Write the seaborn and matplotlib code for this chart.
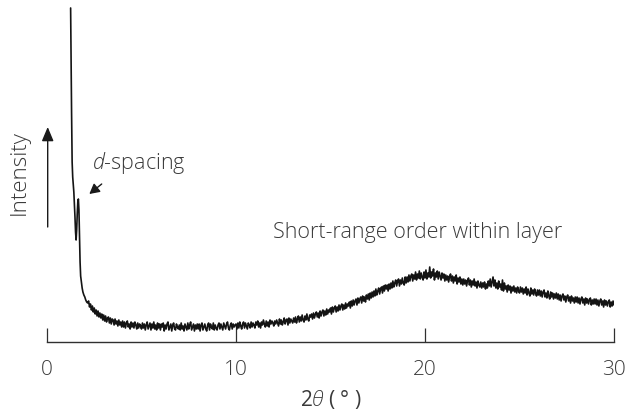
import numpy as np
import pandas as pd
import matplotlib
matplotlib.use("Agg")
import matplotlib.pyplot as plt
import seaborn as sns

# low-angle region (read point by point, uneven spacing)
low_angle = [1.25, 1.27, 1.30, 1.33, 1.36, 1.39, 1.42, 1.45, 1.48, 1.51,
             1.54, 1.57, 1.60, 1.63, 1.66, 1.69, 1.72, 1.75, 1.78, 1.82,
             1.86, 1.90, 1.95, 2.00, 2.05, 2.10, 2.15]
low_counts = [334, 290, 230, 180, 165, 158, 150, 138, 125, 110,
              102, 112, 128, 140, 143, 132, 105, 80, 66, 60,
              54, 50, 47, 45, 42, 40, 39]

# 2.20 .. 30.00 deg, step 0.05 (one row per degree)
scan_start, scan_step = 2.2, 0.05
scan_counts = [
    41, 35, 38, 32, 36, 30, 34, 28, 32, 26, 31, 25, 29, 24, 28, 22,
    27, 21, 26, 20, 24, 25, 19, 24, 18, 23, 22, 17, 23, 18, 21, 16, 22, 17, 20, 15,
    21, 15, 20, 14, 19, 21, 15, 18, 13, 20, 15, 19, 14, 20, 17, 13, 19, 14, 18, 16,
    13, 19, 14, 18, 12, 17, 20, 13, 16, 19, 12, 18, 14, 20, 13, 17, 12, 19, 14, 18,
    12, 18, 15, 19, 11, 17, 13, 18, 20, 12, 15, 18, 11, 17, 19, 13, 12, 18, 15, 13,
    17, 12, 19, 13, 16, 11, 18, 15, 12, 19, 13, 17, 20, 12, 15, 18, 11, 17, 13, 18,
    13, 18, 11, 17, 19, 12, 15, 18, 13, 11, 17, 19, 12, 18, 15, 13, 19, 12, 17, 14,
    12, 17, 19, 13, 18, 15, 12, 19, 16, 13, 18, 20, 14, 12, 17, 19, 13, 18, 15, 17,
    18, 13, 19, 14, 20, 16, 13, 18, 20, 14, 19, 16, 13, 19, 17, 14, 20, 15, 19, 17,
    14, 20, 17, 21, 15, 19, 14, 20, 17, 22, 18, 15, 21, 16, 20, 15, 22, 18, 21, 19,
    16, 21, 18, 22, 19, 16, 23, 18, 22, 17, 20, 24, 18, 22, 23, 17, 24, 19, 23, 21,
    19, 24, 20, 25, 19, 23, 26, 20, 25, 21, 27, 22, 20, 26, 22, 28, 23, 21, 27, 25,
    28, 23, 29, 24, 28, 30, 25, 29, 24, 31, 26, 30, 32, 26, 31, 27, 33, 28, 32, 30,
    34, 28, 35, 30, 34, 36, 30, 35, 31, 37, 32, 36, 38, 32, 37, 33, 39, 34, 38, 36,
    40, 34, 41, 36, 42, 37, 41, 43, 37, 44, 39, 43, 45, 39, 46, 41, 45, 40, 47, 43,
    48, 42, 49, 44, 50, 45, 51, 46, 53, 47, 51, 54, 48, 53, 55, 49, 56, 51, 57, 53,
    57, 51, 58, 53, 59, 54, 61, 55, 59, 62, 56, 61, 63, 56, 62, 58, 64, 59, 57, 65,
    59, 65, 60, 67, 61, 66, 68, 61, 67, 63, 70, 62, 68, 64, 71, 63, 69, 65, 62, 70,
    64, 72, 63, 69, 65, 75, 64, 70, 66, 73, 62, 69, 65, 71, 63, 70, 66, 62, 69, 64,
    68, 61, 67, 62, 66, 60, 65, 68, 61, 66, 59, 65, 61, 67, 58, 64, 60, 65, 58, 63,
    57, 63, 58, 62, 56, 61, 64, 57, 62, 55, 61, 57, 63, 56, 60, 54, 61, 57, 55, 60,
    54, 59, 55, 60, 53, 58, 54, 61, 56, 63, 55, 60, 65, 56, 62, 54, 59, 53, 61, 55,
    58, 52, 62, 51, 59, 53, 56, 50, 57, 52, 56, 49, 55, 51, 56, 50, 54, 49, 55, 51,
    49, 55, 50, 54, 48, 53, 49, 55, 47, 53, 49, 46, 54, 48, 52, 47, 53, 49, 46, 52,
    47, 52, 46, 51, 45, 50, 52, 45, 49, 44, 51, 46, 43, 50, 45, 49, 43, 48, 44, 49,
    43, 48, 42, 47, 41, 46, 48, 42, 46, 40, 45, 47, 41, 45, 39, 46, 41, 44, 39, 45,
    40, 45, 39, 44, 38, 43, 45, 39, 43, 37, 44, 39, 43, 38, 42, 44, 37, 42, 38, 43,
    38, 43, 37, 42, 36, 41, 43, 37, 41, 35, 42, 37, 41, 36, 40, 42, 35, 40, 36, 41,
    37,
]

x_ticks = [0, 10, 20, 30]

scan_angle = np.round(scan_start + scan_step * np.arange(len(scan_counts)), 2)
df = pd.DataFrame({
    "two_theta": list(low_angle) + list(scan_angle),
    "intensity": low_counts + scan_counts,
})

sns.set_style("white")
plt.rcParams["font.family"] = ["Open Sans", "DejaVu Sans"]
plt.rcParams["font.weight"] = "light"
plt.rcParams["mathtext.fontset"] = "custom"
plt.rcParams["mathtext.rm"] = "Open Sans:light"
plt.rcParams["mathtext.it"] = "Open Sans:italic:light"

text_col = "#3a3a3a"
line_col = "#141414"
fs = 15

fig = plt.figure(figsize=(6.38, 4.14), dpi=100)
ax = fig.add_axes([47 / 638, 71 / 414, 567 / 638, 343 / 414])

sns.lineplot(data=df, x="two_theta", y="intensity", ax=ax, color=line_col,
             linewidth=1.2, estimator=None, sort=False)

ax.set_xlim(0, 30)
ax.set_ylim(0, 343)
for s in ["left", "right", "top"]:
    ax.spines[s].set_visible(False)
ax.spines["bottom"].set_color("#303030")
ax.spines["bottom"].set_linewidth(1.0)
ax.set_yticks([])
ax.set_xticks(x_ticks)
ax.tick_params(axis="x", bottom=True, direction="in", length=10, width=0.9,
               color="#303030", pad=12, labelsize=fs, labelcolor=text_col)
ax.set_xlabel(r"2$\mathit{\theta}$ ( ° )", fontsize=fs, color=text_col, labelpad=6)
ax.set_ylabel("")

# intensity arrow + label
ax.annotate("", xy=(47.7, 286), xycoords="figure pixels",
            xytext=(47.7, 186), textcoords="figure pixels",
            arrowprops=dict(arrowstyle="-|>,head_length=0.5,head_width=0.21",
                            mutation_scale=17, color="#1a1a1a", lw=1.0,
                            shrinkA=0, shrinkB=0))
fig.text(19.5 / 638, 241 / 414, "Intensity", rotation=90, ha="center", va="center",
         fontsize=16, color=text_col)

# d-spacing
ax.annotate("", xy=(89.3, 219), xycoords="figure pixels",
            xytext=(101.7, 229), textcoords="figure pixels",
            arrowprops=dict(arrowstyle="-|>,head_length=0.5,head_width=0.27",
                            mutation_scale=12, color="#1a1a1a", lw=1.0,
                            shrinkA=0, shrinkB=0))
fig.text(92 / 638, 251 / 414, r"$\mathit{d}$-spacing", ha="left", va="center",
         fontsize=15.5, color=text_col)

fig.text(273 / 638, 181 / 414, "Short-range order within layer", ha="left",
         va="center", fontsize=15.5, color=text_col)

fig.savefig("out.png", dpi=100)
